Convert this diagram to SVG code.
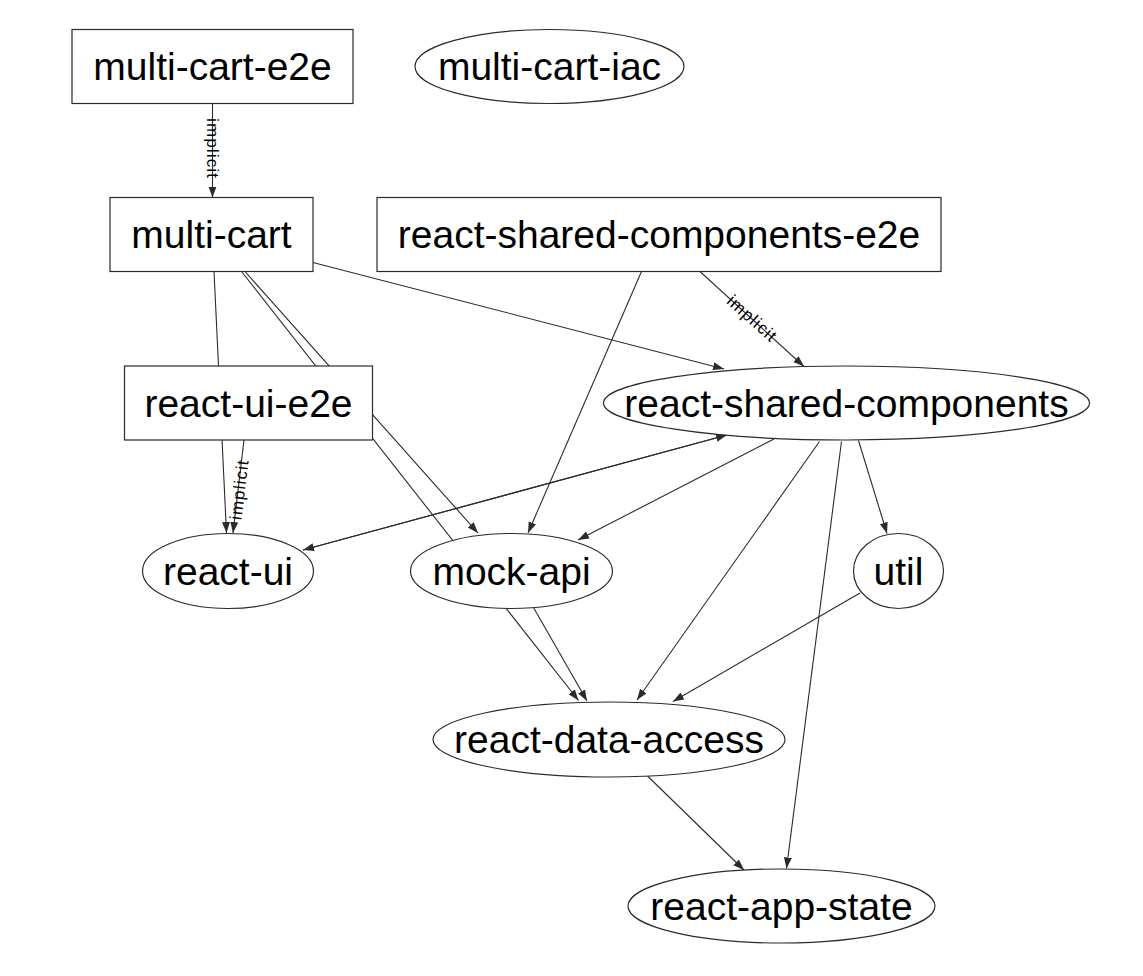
<svg xmlns="http://www.w3.org/2000/svg" width="1143" height="976" viewBox="0 0 1143 976">
<style>
.node rect, .node ellipse { fill: #ffffff; stroke: #2b2b2b; stroke-width: 1.2; }
.node text { font-family: "Liberation Sans", Arial, Helvetica, sans-serif; font-size: 39px; fill: #000000; text-anchor: middle; }
.edges line { stroke: #2b2b2b; stroke-width: 1.1; fill: none; marker-end: url(#arrow); }
.lbl { font-family: "Liberation Sans", Arial, Helvetica, sans-serif; font-size: 17px; fill: #000000; text-anchor: middle; }
</style>
<defs>
<marker id="arrow" markerUnits="userSpaceOnUse" markerWidth="12" markerHeight="9" refX="11" refY="4" orient="auto">
<path d="M0,0 L11,4 L0,8 z" fill="#2b2b2b"/>
</marker>
</defs>
<rect x="0" y="0" width="1143" height="976" fill="#ffffff"/>
<g id="connectors" class="edges">
<line x1="212.5" y1="103.5" x2="212.5" y2="197.5"/>
<line x1="214" y1="271.5" x2="226.5" y2="533"/>
<line x1="244" y1="440" x2="233" y2="533"/>
<line x1="245" y1="271.5" x2="478" y2="533"/>
<line x1="241.5" y1="271.5" x2="578.5" y2="700.5"/>
<line x1="533.5" y1="607.5" x2="587" y2="701"/>
<line x1="313" y1="262.5" x2="724" y2="369"/>
<line x1="700" y1="271.5" x2="804" y2="366.5"/>
<line x1="641.5" y1="271.5" x2="528" y2="533"/>
<line x1="774" y1="439" x2="578" y2="540"/>
<line x1="727" y1="435" x2="303" y2="550"/>
<line x1="303" y1="550" x2="727" y2="435"/>
<line x1="858.5" y1="440.5" x2="887" y2="533.5"/>
<line x1="819.5" y1="441.5" x2="637" y2="700"/>
<line x1="841.5" y1="441.5" x2="786.5" y2="868.5"/>
<line x1="860" y1="593" x2="673" y2="701.5"/>
<line x1="646.5" y1="775" x2="744" y2="870"/>
<text class="lbl" transform="translate(212.5,148) rotate(90)" y="6" textLength="60" lengthAdjust="spacing">implicit</text>
<text class="lbl" transform="translate(239,490) rotate(-83)" y="6" textLength="60" lengthAdjust="spacing">implicit</text>
<text class="lbl" transform="translate(752,318) rotate(42)" y="6" textLength="60" lengthAdjust="spacing">implicit</text>
</g>
<g id="multi-cart-e2e" class="node"><rect x="72" y="29.5" width="281" height="74"/><text x="212.5" y="80">multi-cart-e2e</text></g>
<g id="multi-cart-iac" class="node"><ellipse cx="549.5" cy="66.5" rx="134.5" ry="37"/><text x="549.5" y="80">multi-cart-iac</text></g>
<g id="multi-cart" class="node"><rect x="110" y="197.5" width="203" height="74"/><text x="211.5" y="248">multi-cart</text></g>
<g id="react-shared-components-e2e" class="node"><rect x="377" y="197.5" width="564" height="74"/><text x="659" y="248">react-shared-components-e2e</text></g>
<g id="react-ui-e2e" class="node"><rect x="124.5" y="366" width="248" height="74"/><text x="248.5" y="416.5">react-ui-e2e</text></g>
<g id="react-shared-components" class="node"><ellipse cx="846.5" cy="403" rx="243" ry="37"/><text x="846.5" y="416.5">react-shared-components</text></g>
<g id="react-ui" class="node"><ellipse cx="228" cy="571" rx="85.5" ry="37.5"/><text x="228" y="584.5">react-ui</text></g>
<g id="mock-api" class="node"><ellipse cx="511.5" cy="571" rx="101" ry="37.5"/><text x="511.5" y="584.5">mock-api</text></g>
<g id="util" class="node"><ellipse cx="898.5" cy="571" rx="45" ry="37.5"/><text x="898.5" y="584.5">util</text></g>
<g id="react-data-access" class="node"><ellipse cx="609" cy="739.5" rx="176" ry="37.5"/><text x="609" y="753">react-data-access</text></g>
<g id="react-app-state" class="node"><ellipse cx="781.5" cy="906" rx="153.5" ry="37"/><text x="781.5" y="919.5">react-app-state</text></g>
</svg>
